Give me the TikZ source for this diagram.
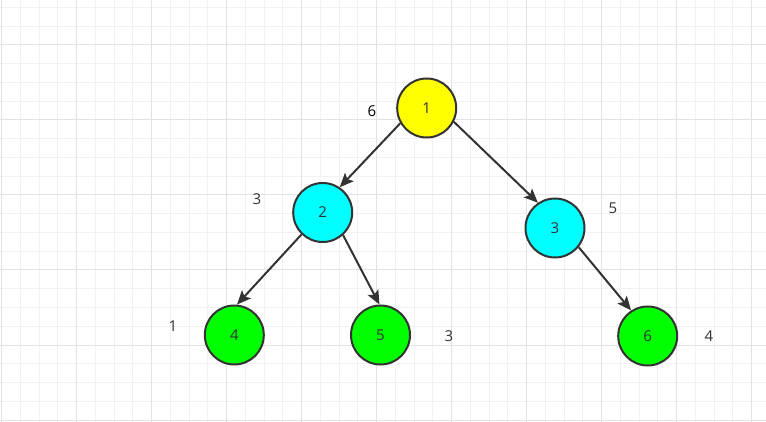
\documentclass[tikz,border=0pt]{standalone}
\usepackage{fontspec}
\setmainfont{Open Sans}
\usetikzlibrary{arrows.meta}
\definecolor{minorgrid}{HTML}{F1F1F1}
\definecolor{majorgrid}{HTML}{E2E2E2}
\definecolor{edgecol}{HTML}{333333}
\definecolor{nyellow}{HTML}{FFFF00}
\definecolor{ncyan}{HTML}{00FFFF}
\definecolor{ngreen}{HTML}{00FF00}
\tikzset{
  treenode/.style={circle, draw=edgecol, line width=2pt, minimum size=59pt, inner sep=0pt,
    font=\fontsize{15}{18}\selectfont, text=edgecol},
  edge/.style={draw=edgecol, line width=2pt, -{Stealth[length=14pt, width=12pt, inset=3pt]}},
  weight/.style={font=\fontsize{15}{18}\selectfont, text=edgecol, inner sep=0pt}
}
\begin{document}
\begin{tikzpicture}[x=1pt,y=-1pt]
\useasboundingbox (0,0) rectangle (766,422);
\fill[white] (0,0) rectangle (766,422);
% minor grid
\foreach \i in {0,...,40} {
  \draw[minorgrid, line width=1pt] ({1.7+18.75*\i},0) -- ({1.7+18.75*\i},422);
}
\foreach \j in {0,...,22} {
  \draw[minorgrid, line width=1pt] (0,{7.5+18.75*\j}) -- (766,{7.5+18.75*\j});
}
% major grid
\foreach \i in {0,...,10} {
  \draw[majorgrid, line width=1pt] ({1.7+75*\i},0) -- ({1.7+75*\i},422);
}
\foreach \j in {0,...,5} {
  \draw[majorgrid, line width=1pt] (0,{45+75*\j}) -- (766,{45+75*\j});
}
% nodes
\node[treenode, fill=nyellow] (n1) at (426.7,108) {1};
\node[treenode, fill=ncyan] (n2) at (322.7,212.5) {2};
\node[treenode, fill=ncyan] (n3) at (555,228) {3};
\node[treenode, fill=ngreen] (n4) at (234.3,335) {4};
\node[treenode, fill=ngreen] (n5) at (380.5,335) {5};
\node[treenode, fill=ngreen] (n6) at (647.7,336) {6};
% edges
\draw[edge] (n1.210) -- (n2.56);
\draw[edge] (n1.-27) -- (n3.124);
\draw[edge] (n2.226) -- (n4.85);
\draw[edge] (n2.-48) -- (n5.92);
\draw[edge] (n3.-39) -- (n6.123);
% weights
\node[weight, text=black] (w1) at (372,111) {6};
\node[weight] (w2) at (257,199) {3};
\node[weight] (w3) at (613,208) {5};
\node[weight] (w4) at (173,326) {1};
\node[weight] (w5) at (449,336) {3};
\node[weight] (w6) at (709,336) {4};
\end{tikzpicture}
\end{document}
